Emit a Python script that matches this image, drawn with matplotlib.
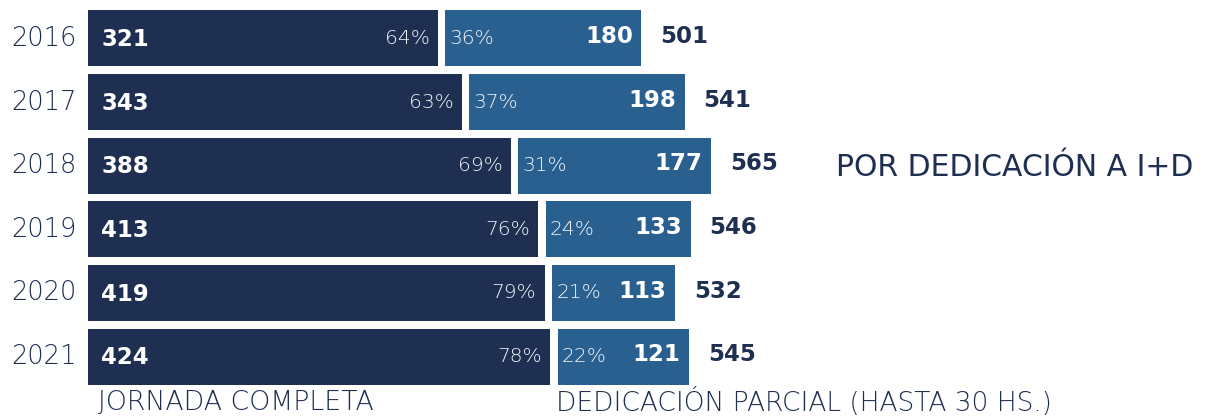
import matplotlib.pyplot as plt

years = ["2016", "2017", "2018", "2019", "2020", "2021"]
completa = [321, 343, 388, 413, 419, 424]
parcial = [180, 198, 177, 133, 113, 121]
pct_completa = ["64%", "63%", "69%", "76%", "79%", "78%"]
pct_parcial = ["36%", "37%", "31%", "24%", "21%", "22%"]
totales = [501, 541, 565, 546, 532, 545]

dark = "#1f2f52"
light = "#2a6090"
gap = 6.5

plt.rcParams['font.family'] = ['DejaVu Sans']

fig = plt.figure(figsize=(12.11, 4.17), dpi=100)
ax = fig.add_axes([0, 0, 1, 1])
ax.set_xlim(-81, 1030)
ax.set_ylim(5.95, -0.605)
ax.axis('off')

y = range(len(years))
left2 = [c + gap for c in completa]
ax.barh(y, completa, height=0.88, color=dark)
ax.barh(y, parcial, left=left2, height=0.88, color=light)

for i in y:
    ax.text(-11, i, years[i], ha='right', va='center', fontsize=18.5,
            color=dark, fontweight='light')
    ax.text(12, i + 0.02, str(completa[i]), ha='left', va='center',
            fontsize=16.5, color='white', fontweight='bold')
    ax.text(completa[i] - 8, i, pct_completa[i], ha='right', va='center',
            fontsize=14.5, color='#f4f6fa', fontweight='light')
    ax.text(left2[i] + 4, i, pct_parcial[i], ha='left', va='center',
            fontsize=14.5, color='#f4f6fa', fontweight='light')
    ax.text(left2[i] + parcial[i] - 8, i - 0.03, str(parcial[i]), ha='right',
            va='center', fontsize=16.5, color='white', fontweight='bold')
    ax.text(left2[i] + parcial[i] + 17, i - 0.03, str(totales[i]), ha='left',
            va='center', fontsize=16.5, color=dark, fontweight='bold')

ax.text(686, 2.03, "POR DEDICACIÓN A I+D", ha='left', va='center',
        fontsize=21.5, color=dark, fontweight='normal')
ax.text(9, 5.84, "JORNADA COMPLETA", ha='left', va='baseline',
        fontsize=19.3, color=dark, fontweight='light')
ax.text(429, 5.85, "DEDICACIÓN PARCIAL (HASTA 30 HS.)", ha='left', va='baseline',
        fontsize=19, color=dark, fontweight='light')

fig.savefig("out.png", dpi=100)
